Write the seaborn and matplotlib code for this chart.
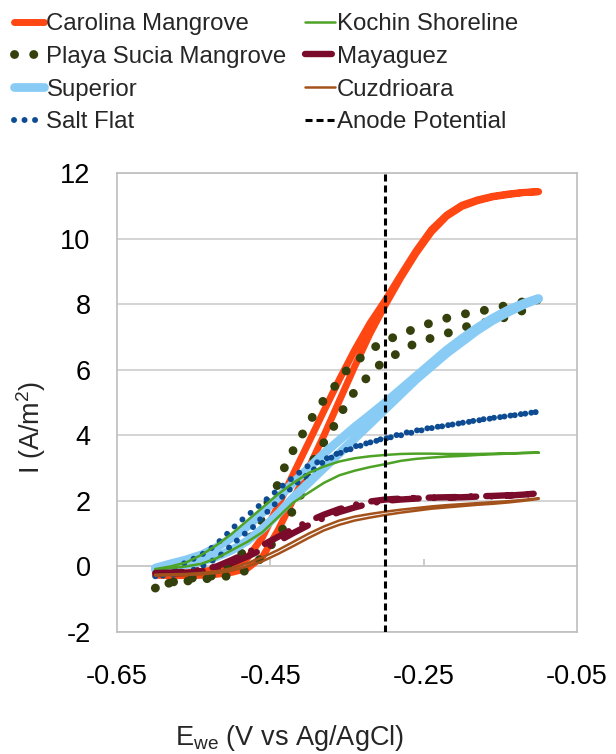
import matplotlib
matplotlib.use("Agg")
import matplotlib.pyplot as plt
import numpy as np
import pandas as pd
import seaborn as sns

# ---------------- data ----------------
series_names = ["Carolina Mangrove", "Playa Sucia Mangrove", "Superior", "Salt Flat",
                "Kochin Shoreline", "Mayaguez", "Cuzdrioara"]
anode_label = "Anode Potential"
anode_potential = -0.30

v_grid = [-0.60, -0.58, -0.56, -0.54, -0.52, -0.50, -0.48, -0.46, -0.44, -0.42, -0.40, -0.38, -0.36,
          -0.34, -0.32, -0.30, -0.28, -0.26, -0.24, -0.22, -0.20, -0.18, -0.16, -0.14, -0.12, -0.10]

carolina_fwd = [-0.27, -0.28, -0.28, -0.27, -0.24, -0.18, -0.06, 0.30, 1.10, 2.05, 3.00, 4.00, 5.05,
                6.10, 7.10, 7.98, 8.80, 9.55, 10.20, 10.68, 10.98, 11.15, 11.27, 11.34, 11.40, 11.43]
carolina_rev = [-0.20, -0.20, -0.18, -0.15, -0.10, -0.02, 0.25, 0.90, 1.85, 2.82, 3.78, 4.75, 5.70,
                6.60, 7.42, 8.12, 8.88, 9.62, 10.27, 10.72, 11.02, 11.18, 11.29, 11.36, 11.41, 11.43]

superior_fwd = [-0.05, 0.08, 0.20, 0.35, 0.58, 0.88, 1.22, 1.65, 2.10, 2.55, 3.00, 3.45, 3.85,
                4.25, 4.62, 5.00, 5.40, 5.80, 6.20, 6.60, 6.95, 7.28, 7.57, 7.82, 8.02, 8.17]
superior_rev = [-0.08, -0.03, 0.05, 0.15, 0.30, 0.50, 0.78, 1.15, 1.60, 2.10, 2.55, 3.00, 3.45,
                3.90, 4.35, 4.80, 5.25, 5.70, 6.10, 6.50, 6.85, 7.20, 7.50, 7.75, 7.98, 8.17]

kochin_fwd = [-0.08, 0.00, 0.12, 0.35, 0.65, 1.00, 1.40, 1.80, 2.20, 2.55, 2.85, 3.05, 3.20,
              3.30, 3.36, 3.40, 3.43, 3.44, 3.44, 3.43, 3.43, 3.43, 3.44, 3.45, 3.46, 3.47]
kochin_rev = [-0.10, -0.05, 0.00, 0.08, 0.25, 0.50, 0.75, 1.05, 1.50, 1.95, 2.25, 2.55, 2.78,
              2.92, 3.03, 3.12, 3.22, 3.28, 3.32, 3.35, 3.37, 3.40, 3.42, 3.44, 3.46, 3.47]

mayaguez_fwd = [-0.20, -0.19, -0.16, -0.10, 0.00, 0.20, 0.42, 0.65, 0.90, 1.15, 1.38, 1.58, 1.75,
                1.88, 1.98, 2.04, 2.07, 2.09, 2.10, 2.11, 2.12, 2.14, 2.15, 2.17, 2.19, 2.23]
mayaguez_rev = [-0.22, -0.22, -0.20, -0.15, -0.06, 0.10, 0.30, 0.52, 0.76, 1.02, 1.26, 1.48, 1.66,
                1.80, 1.92, 2.00, 2.04, 2.07, 2.09, 2.10, 2.11, 2.13, 2.14, 2.16, 2.19, 2.23]

cuz_fwd = [-0.25, -0.24, -0.23, -0.20, -0.15, -0.05, 0.10, 0.28, 0.50, 0.75, 1.00, 1.22, 1.40,
           1.52, 1.60, 1.67, 1.73, 1.78, 1.83, 1.87, 1.90, 1.93, 1.96, 1.99, 2.03, 2.08]
cuz_rev = [-0.28, -0.27, -0.26, -0.24, -0.20, -0.13, 0.00, 0.16, 0.38, 0.62, 0.87, 1.10, 1.27,
           1.40, 1.49, 1.57, 1.64, 1.70, 1.76, 1.80, 1.84, 1.88, 1.91, 1.95, 2.00, 2.06]

playa_fwd_v = [-0.600, -0.578, -0.555, -0.529, -0.509, -0.490, -0.476, -0.463, -0.453, -0.441,
               -0.431, -0.420, -0.407, -0.394, -0.379, -0.363, -0.349, -0.329, -0.307, -0.290,
               -0.268, -0.244, -0.222, -0.197, -0.173, -0.150, -0.125, -0.100]
playa_fwd_i = [-0.66, -0.48, -0.36, -0.32, -0.05, 0.28, 0.86, 1.35, 1.96, 2.47, 3.05, 3.55, 4.08,
               4.60, 5.12, 5.58, 6.03, 6.43, 6.80, 6.98, 7.19, 7.40, 7.56, 7.70, 7.80, 7.92, 8.05, 8.17]
playa_rev_v = [-0.100, -0.115, -0.140, -0.163, -0.187, -0.217, -0.242, -0.264, -0.285, -0.307,
               -0.324, -0.342, -0.355, -0.368, -0.381, -0.394, -0.401, -0.412, -0.424, -0.437,
               -0.453, -0.469, -0.490, -0.513, -0.535, -0.560, -0.585, -0.600]
playa_rev_i = [8.17, 7.86, 7.62, 7.47, 7.37, 7.13, 6.95, 6.77, 6.49, 6.16, 5.76, 5.27, 4.79, 4.24,
               3.75, 3.23, 2.69, 2.10, 1.56, 1.01, 0.53, 0.07, -0.23, -0.32, -0.38, -0.45, -0.52, -0.60]

salt_fwd_v = [-0.600, -0.580, -0.560, -0.540, -0.525, -0.512, -0.499, -0.486, -0.471, -0.458,
              -0.444, -0.430, -0.415, -0.402, -0.381, -0.359, -0.336, -0.320, -0.300, -0.278,
              -0.246, -0.212, -0.180, -0.137, -0.100]
salt_fwd_i = [-0.30, -0.10, 0.12, 0.35, 0.59, 0.86, 1.17, 1.44, 1.72, 1.99, 2.26, 2.54, 2.81, 3.05,
              3.25, 3.48, 3.69, 3.78, 3.90, 4.06, 4.21, 4.33, 4.45, 4.60, 4.72]
salt_rev_v = [-0.100, -0.135, -0.167, -0.190, -0.212, -0.242, -0.264, -0.285, -0.303, -0.320,
              -0.340, -0.360, -0.380, -0.398, -0.420, -0.440, -0.460, -0.471, -0.486, -0.499,
              -0.512, -0.530, -0.550, -0.575, -0.600]
salt_rev_i = [4.72, 4.60, 4.51, 4.42, 4.33, 4.21, 4.09, 3.97, 3.90, 3.78, 3.62, 3.45, 3.20, 2.87,
              2.45, 2.00, 1.52, 1.23, 0.95, 0.68, 0.40, 0.10, -0.10, -0.25, -0.30]

x_ticks = [-0.65, -0.45, -0.25, -0.05]
x_tick_labels = ["-0.65", "-0.45", "-0.25", "-0.05"]
y_ticks = [-2, 0, 2, 4, 6, 8, 10, 12]
y_tick_labels = ["-2", "0", "2", "4", "6", "8", "10", "12"]

# ---------------- build table ----------------
rev_grid = v_grid[::-1]
paths = {
    "Carolina Mangrove": (v_grid + rev_grid, carolina_fwd + carolina_rev[::-1]),
    "Playa Sucia Mangrove": (playa_fwd_v + playa_rev_v, playa_fwd_i + playa_rev_i),
    "Superior": (v_grid + rev_grid, superior_fwd + superior_rev[::-1]),
    "Salt Flat": (salt_fwd_v + salt_rev_v, salt_fwd_i + salt_rev_i),
    "Kochin Shoreline": (v_grid + rev_grid, kochin_fwd + kochin_rev[::-1]),
    "Mayaguez": (v_grid + rev_grid, mayaguez_fwd + mayaguez_rev[::-1]),
    "Cuzdrioara": (v_grid + rev_grid, cuz_fwd + cuz_rev[::-1]),
}
frames = []
for name in series_names:
    v, i = paths[name]
    frames.append(pd.DataFrame({"E": v, "I": i, "series": name, "order": range(len(v))}))
df = pd.concat(frames, ignore_index=True)

styles = {
    "Carolina Mangrove": dict(color="#FF4713", linewidth=5.0, linestyle="-"),
    "Playa Sucia Mangrove": dict(color="#34410D", linewidth=6.4, linestyle=(0, (0.01, 2.15))),
    "Superior": dict(color="#88CCF6", linewidth=6.3, linestyle="-"),
    "Salt Flat": dict(color="#0D4C92", linewidth=4.3, linestyle=(0, (0.01, 1.75))),
    "Kochin Shoreline": dict(color="#4EA326", linewidth=1.8, linestyle="-"),
    "Mayaguez": dict(color="#7A0B2B", linewidth=4.6, linestyle=(0, (4.2, 2.4, 0.01, 2.4))),
    "Cuzdrioara": dict(color="#A4521C", linewidth=1.8, linestyle="-"),
}

# ---------------- figure ----------------
sns.set_theme(style="white")
plt.rcParams["font.family"] = ["Liberation Sans", "DejaVu Sans"]
plt.rcParams["mathtext.fontset"] = "custom"
plt.rcParams["mathtext.rm"] = "Liberation Sans"
plt.rcParams["mathtext.it"] = "Liberation Sans:italic"
plt.rcParams["axes.unicode_minus"] = False

fig = plt.figure(figsize=(6.16, 7.54), dpi=100)
ax = fig.add_axes([117 / 616, 1 - 632 / 754, 460 / 616, 459 / 754])

for name in series_names:
    sub = df[df["series"] == name].sort_values("order")
    sns.lineplot(data=sub, x="E", y="I", sort=False, estimator=None, ax=ax,
                 label=name, legend=False, **styles[name])

for line in ax.lines:
    line.set_dash_capstyle("round")
    line.set_solid_capstyle("round")

ax.axvline(anode_potential, color="black", linewidth=2.2, linestyle=(0, (2.3, 1.3)),
           label=anode_label, zorder=5)
ax.lines[-1].set_dash_capstyle("butt")

ax.set_xlim(-0.65, -0.05)
ax.set_ylim(-2, 12)
ax.set_xticks(x_ticks)
ax.set_xticklabels(x_tick_labels)
ax.set_yticks(y_ticks)
ax.set_yticklabels(y_tick_labels)
ax.grid(axis="y", color="#C9C9C9", linewidth=1.1)
ax.grid(axis="x", visible=False)
ax.set_axisbelow(True)
for s in ax.spines.values():
    s.set_color("#BDBDBD")
    s.set_linewidth(1.2)
ax.tick_params(axis="both", length=0, labelsize=19.5, labelcolor="black")
ax.tick_params(axis="y", pad=19)
ax.tick_params(axis="x", pad=23)
ax.set_xlabel("")
ax.set_ylabel("")

# small tick marks on the zero line (Excel axis crossing)
sec = ax.secondary_xaxis(2 / 14)
sec.set_xticks(x_ticks[1:3])
sec.tick_params(direction="in", length=5, color="#BDBDBD", width=1.1, labelbottom=False)
sec.spines["bottom"].set_color("#C9C9C9")
sec.spines["bottom"].set_linewidth(1.1)

if ax.get_legend() is not None:
    ax.get_legend().remove()

fig.text(290 / 616, 1 - 745 / 754, r"E$_{\mathrm{we}}$ (V vs Ag/AgCl)", fontsize=19.5,
         ha="center", va="baseline")
fig.text(31 / 616, 1 - 427 / 754, r"I (A/m$^{2}$)", fontsize=19.5, rotation=90,
         ha="center", va="center")

handles, labels = ax.get_legend_handles_labels()
fig.legend(handles, labels, ncol=2, loc="upper left", bbox_to_anchor=(14 / 616, 1 - 13 / 754),
           frameon=False, fontsize=17.3, handlelength=1.25, handletextpad=0.1,
           columnspacing=0.75, labelspacing=0.45, borderpad=0, borderaxespad=0)

fig.savefig("out.png", dpi=100)
